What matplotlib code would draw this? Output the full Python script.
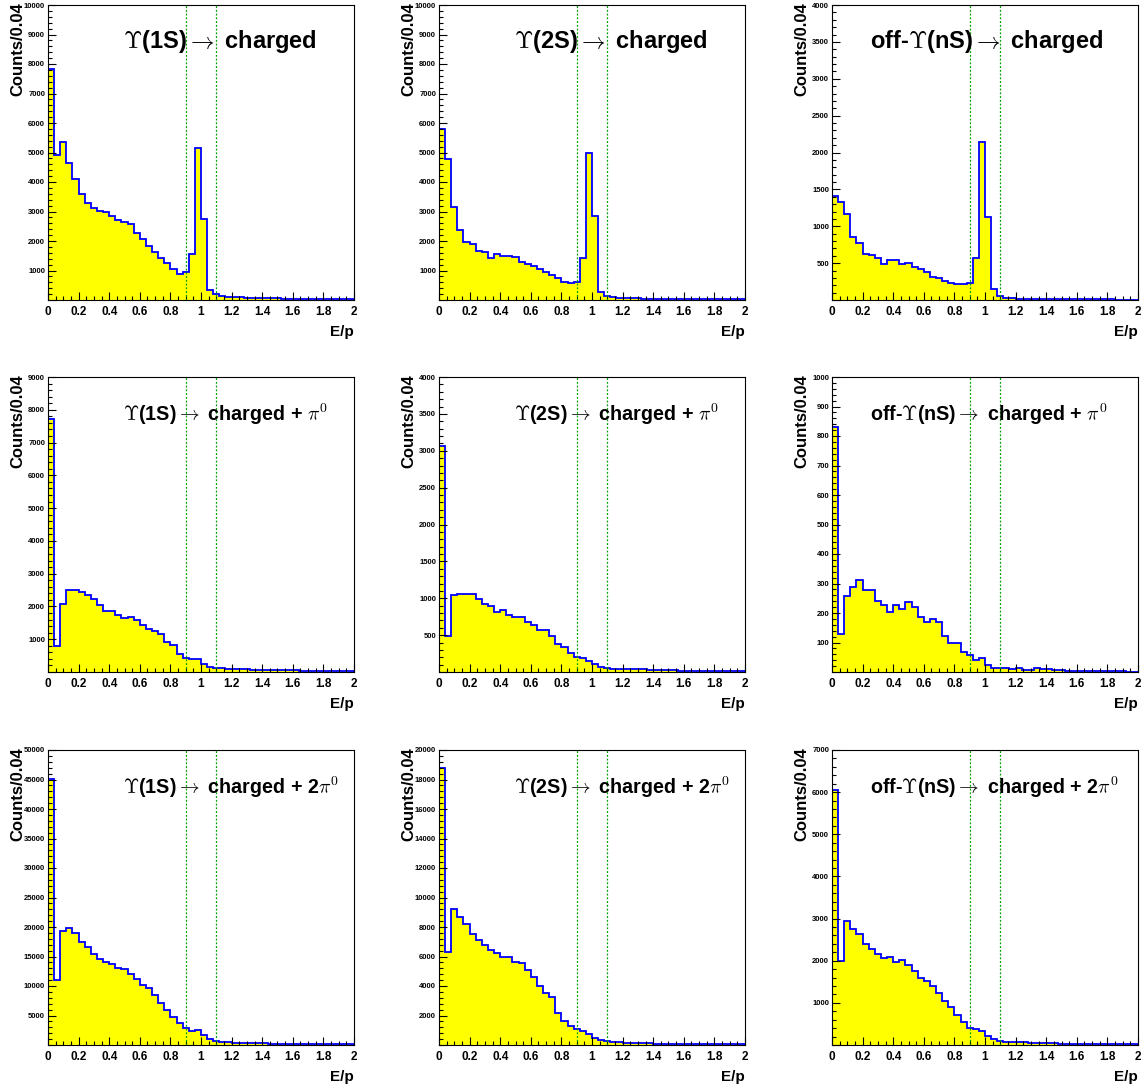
import numpy as np
import matplotlib
matplotlib.use("Agg")
import matplotlib.pyplot as plt
from matplotlib.ticker import MultipleLocator, FuncFormatter

plt.rcParams['font.family'] = ['Liberation Sans', 'DejaVu Sans']
plt.rcParams['font.weight'] = 'bold'
plt.rcParams['mathtext.fontset'] = 'cm'

# bin edges: 50 bins of 0.04 over E/p in [0, 2]
edges = np.linspace(0, 2, 51)

# row 1: -> charged
y1s_ch = [7830, 4915, 5345, 4633, 4100, 3582, 3277, 3107, 3028, 2972,
          2860, 2712, 2655, 2576, 2260, 2068, 1842, 1616, 1435, 1243,
          1040, 881, 938, 1548, 5164, 2746, 339, 203, 147, 113,
          100, 90, 82, 75, 68, 62, 57, 52, 48, 45,
          41, 38, 35, 33, 31, 29, 27, 25, 23, 21]
y2s_ch = [5785, 4768, 3164, 2373, 1955, 1887, 1661, 1638, 1435, 1560,
          1492, 1492, 1446, 1277, 1209, 1164, 1051, 938, 847, 734,
          621, 565, 621, 1412, 4994, 2859, 282, 147, 113, 80,
          70, 62, 55, 50, 46, 42, 40, 36, 34, 31,
          29, 27, 25, 24, 22, 21, 20, 19, 18, 17]
off_ch = [1415, 1324, 1162, 850, 768, 624, 610, 565, 488, 542,
          542, 484, 497, 443, 416, 384, 307, 294, 258, 226,
          212, 212, 235, 574, 2147, 1121, 145, 54, 32, 23,
          20, 18, 16, 15, 14, 13, 12, 11, 10, 10,
          9, 9, 8, 8, 7, 7, 6, 6, 6, 5]

# row 2: -> charged + pi0
y1s_pi = [7720, 790, 2080, 2490, 2490, 2440, 2340, 2215, 2050, 1860,
          1870, 1730, 1640, 1690, 1585, 1435, 1300, 1250, 1150, 915,
          815, 540, 440, 405, 385, 245, 165, 120, 110, 95,
          90, 85, 80, 76, 72, 68, 64, 60, 56, 52,
          48, 45, 42, 40, 37, 35, 32, 30, 28, 26]
y2s_pi = [3060, 488, 1043, 1061, 1052, 1061, 993, 925, 894, 817,
          835, 767, 745, 745, 677, 637, 569, 564, 488, 384,
          339, 262, 208, 194, 149, 113, 68, 50, 45, 45,
          40, 35, 40, 40, 30, 28, 25, 25, 22, 20,
          18, 16, 16, 15, 14, 12, 12, 10, 10, 10]
off_pi = [830, 130, 257, 289, 311, 278, 278, 240, 226, 204,
          226, 215, 238, 221, 186, 170, 178, 170, 122, 97,
          99, 68, 56, 41, 47, 23, 15, 12, 12, 10,
          15, 8, 6, 14, 10, 9, 7, 6, 4, 4,
          3, 3, 3, 2, 2, 2, 2, 2, 1, 1]

# row 3: -> charged + 2pi0
y1s_2pi = [45100, 11000, 19400, 19800, 19000, 17400, 16550, 15400, 14500, 14100,
           13700, 13100, 12800, 12000, 11200, 10200, 9600, 8400, 7200, 5900,
           4800, 3700, 2800, 2400, 2550, 1700, 960, 730, 560, 450,
           400, 360, 330, 300, 280, 260, 240, 220, 200, 190,
           180, 170, 160, 150, 140, 130, 120, 110, 100, 100]
y2s_2pi = [18800, 6280, 9220, 8700, 8180, 7500, 7120, 6780, 6440, 6260,
           5940, 5970, 5650, 5580, 5080, 4590, 4020, 3550, 3230, 2150,
           1630, 1290, 1085, 970, 745, 500, 340, 270, 225, 180,
           160, 150, 130, 120, 110, 100, 95, 90, 85, 80,
           75, 70, 65, 60, 55, 50, 50, 45, 45, 40]
off_2pi = [6050, 2000, 2950, 2745, 2625, 2400, 2280, 2160, 2055, 2080,
           1960, 2015, 1900, 1765, 1600, 1525, 1410, 1225, 1050, 910,
           710, 540, 395, 370, 340, 220, 135, 95, 80, 70,
           65, 60, 55, 50, 45, 40, 38, 35, 32, 30,
           28, 26, 24, 22, 20, 18, 16, 15, 14, 13]

hists = [[y1s_ch, y2s_ch, off_ch],
         [y1s_pi, y2s_pi, off_pi],
         [y1s_2pi, y2s_2pi, off_2pi]]
ymaxes = [[10000, 10000, 4000], [9000, 4000, 1000], [50000, 20000, 7000]]
ysteps = [[1000, 1000, 500], [1000, 500, 100], [5000, 2000, 1000]]

sources = [r'$\Upsilon$(1S)', r'$\Upsilon$(2S)', r'off-$\Upsilon$(nS)']
finals = [r'charged', r'charged + $\pi^{\mathbf{0}}$', r'charged + 2$\pi^{\mathbf{0}}$']
title_sizes = [17, 14.2, 14.2]
cuts = [0.9, 1.1]

fig = plt.figure(figsize=(11.48, 10.87), dpi=100)
W, H = 1148.0, 1087.0
lefts = [48, 439, 832]
tops = [5, 377, 750]
aw, ah = 306, 295

for r in range(3):
    for c in range(3):
        ax = fig.add_axes([lefts[c] / W, 1 - (tops[r] + ah) / H, aw / W, ah / H])
        vals = np.array(hists[r][c], dtype=float)
        ax.stairs(vals, edges, fill=True, color='#ffff00', lw=0)
        ax.stairs(vals, edges, color='#0000ff', lw=1.3)
        for xc in cuts:
            ax.axvline(xc, color='#00a000', lw=0.9, ls=(0, (1.5, 1.5)))
        ax.set_xlim(0, 2)
        ax.set_ylim(0, ymaxes[r][c])
        ax.xaxis.set_major_locator(MultipleLocator(0.2))
        ax.xaxis.set_minor_locator(MultipleLocator(0.05))
        ax.yaxis.set_major_locator(MultipleLocator(ysteps[r][c]))
        ax.yaxis.set_minor_locator(MultipleLocator(ysteps[r][c] / 5))
        ax.xaxis.set_major_formatter(FuncFormatter(lambda v, p: '%g' % round(v, 2)))
        ax.yaxis.set_major_formatter(FuncFormatter(lambda v, p: '' if v == 0 else '%d' % v))
        ax.tick_params(which='both', direction='in', top=False, right=False)
        ax.tick_params(which='major', length=6, width=0.8)
        ax.tick_params(which='minor', length=3, width=0.8)
        ax.tick_params(axis='x', labelsize=8.5, pad=4)
        ax.tick_params(axis='y', labelsize=5.5, pad=2)
        for lab in ax.get_xticklabels() + ax.get_yticklabels():
            lab.set_fontweight('bold')
        for sp in ax.spines.values():
            sp.set_linewidth(0.8)
        ax.set_ylabel('Counts/0.04', fontsize=12, fontweight='bold', loc='top')
        ax.yaxis.set_label_coords(-0.075, 1.01)
        ax.set_xlabel('E/p', fontsize=11, fontweight='bold', loc='right')
        ax.xaxis.set_label_coords(1.0, -0.085)
        tx = 0.124 if c == 2 else 0.245
        ax.text(tx, 0.875, sources[c] + r'$\rightarrow$ ' + finals[r],
                transform=ax.transAxes, fontsize=title_sizes[r], fontweight='bold',
                ha='left', va='center')

fig.savefig('out.png', dpi=100)
